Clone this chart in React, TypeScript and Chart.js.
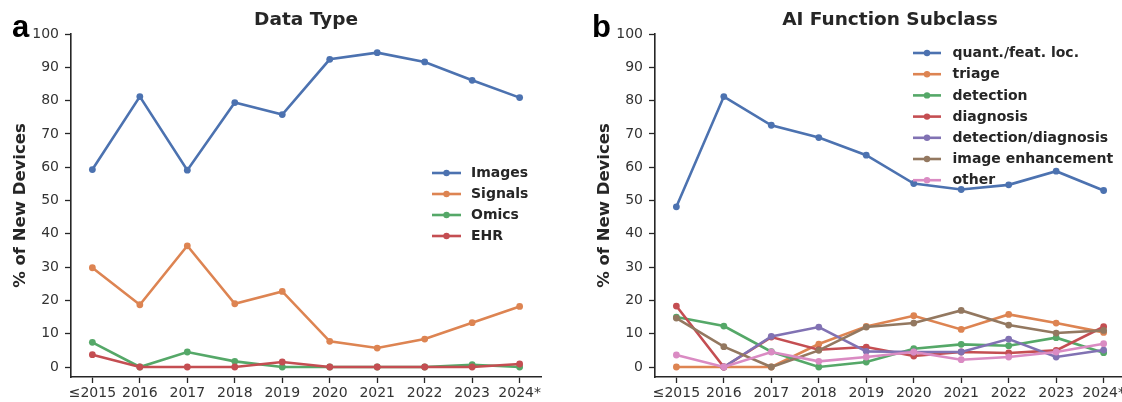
import React, { useEffect, useRef } from 'react';
import { Chart, registerables } from 'chart.js';

Chart.register(...registerables);

// ---------- data ----------
const years = ['≤2015', '2016', '2017', '2018', '2019', '2020', '2021', '2022', '2023', '2024*'];
const yTicks = [0, 10, 20, 30, 40, 50, 60, 70, 80, 90, 100];

// Panel a: Data Type
const images = [59.3, 81.2, 59.1, 79.4, 75.8, 92.4, 94.4, 91.6, 86.1, 80.9];
const signals = [29.8, 18.7, 36.4, 19.0, 22.7, 7.7, 5.7, 8.4, 13.3, 18.2];
const omics = [7.4, 0, 4.5, 1.7, 0, 0, 0, 0, 0.7, 0];
const ehr = [3.7, 0, 0, 0, 1.5, 0, 0, 0, 0, 0.9];

// Panel b: AI Function Subclass
const quant = [48.1, 81.2, 72.6, 68.9, 63.6, 55.1, 53.3, 54.7, 58.8, 53.0];
const triage = [0, 0, 0, 6.9, 12.2, 15.4, 11.3, 15.8, 13.2, 10.4];
const detection = [15.0, 12.3, 4.6, 0, 1.5, 5.5, 6.8, 6.4, 8.8, 4.3];
const diagnosis = [18.3, 0, 9.0, 5.2, 6.0, 3.3, 4.5, 4.2, 5.0, 12.1];
const detDiag = [null, 0, 9.2, 12.0, 4.7, 4.5, 4.5, 8.4, 3.0, 5.1];
const enhancement = [14.7, 6.1, 0, 5.0, 12.0, 13.2, 17.0, 12.6, 10.2, 11.0];
const other = [3.6, 0, 4.5, 1.7, 3.0, 4.5, 2.2, 3.0, 4.5, 7.0];

const seriesA = [
  { label: 'Images', values: images, color: '#4C72B0' },
  { label: 'Signals', values: signals, color: '#DD8452' },
  { label: 'Omics', values: omics, color: '#55A868' },
  { label: 'EHR', values: ehr, color: '#C44E52' },
];

const seriesB = [
  { label: 'quant./feat. loc.', values: quant, color: '#4C72B0' },
  { label: 'triage', values: triage, color: '#DD8452' },
  { label: 'detection', values: detection, color: '#55A868' },
  { label: 'diagnosis', values: diagnosis, color: '#C44E52' },
  { label: 'detection/diagnosis', values: detDiag, color: '#8172B3' },
  { label: 'image enhancement', values: enhancement, color: '#937860' },
  { label: 'other', values: other, color: '#DA8BC3' },
];

const FONT = "'DejaVu Sans', sans-serif";
const INK = '#262626';
const CANVAS_W = 584;
const AXIS_W = 71;
const AREA_RIGHT = 541;

const customLegend = {
  id: 'customLegend',
  afterDraw(chart: any, _args: any, opts: any) {
    const ctx = chart.ctx;
    ctx.save();
    // panel letter
    ctx.font = "bold 31px 'Liberation Sans', Arial, sans-serif";
    ctx.fillStyle = '#000';
    ctx.textBaseline = 'alphabetic';
    ctx.textAlign = 'left';
    ctx.fillText(opts.letter, opts.letterX, 37);
    // legend
    chart.data.datasets.forEach((ds: any, i: number) => {
      const y = opts.y0 + i * opts.gap;
      ctx.strokeStyle = ds.borderColor;
      ctx.lineWidth = 2.6;
      ctx.beginPath();
      ctx.moveTo(opts.x0, y);
      ctx.lineTo(opts.x1, y);
      ctx.stroke();
      ctx.fillStyle = ds.borderColor;
      ctx.beginPath();
      ctx.arc((opts.x0 + opts.x1) / 2, y, 3.2, 0, Math.PI * 2);
      ctx.fill();
      ctx.fillStyle = INK;
      ctx.font = `bold 14px ${FONT}`;
      ctx.textBaseline = 'middle';
      ctx.fillText(ds.label, opts.tx, y + 0.5);
    });
    ctx.restore();
  },
};

function makeConfig(title: string, series: any[], legendOpts: any): any {
  const n = series.length;
  return {
    type: 'line',
    data: {
      datasets: series.map((s, i) => ({
        label: s.label,
        data: s.values.map((v: number | null, j: number) => ({ x: j, y: v })),
        borderColor: s.color,
        backgroundColor: s.color,
        pointBackgroundColor: s.color,
        pointBorderWidth: 0,
        pointRadius: 3.4,
        borderWidth: 2.6,
        tension: 0,
        spanGaps: false,
        order: n - i,
      })),
    },
    plugins: [customLegend],
    options: {
      responsive: false,
      animation: false,
      devicePixelRatio: 1,
      layout: { padding: { left: 0, right: CANVAS_W - AREA_RIGHT, top: 0, bottom: 0 } },
      plugins: {
        legend: { display: false },
        tooltip: { enabled: false },
        title: {
          display: true,
          text: title,
          fullSize: false,
          color: INK,
          font: { family: FONT, size: 18.5, weight: 'bold', lineHeight: 1.2 },
          padding: { top: 9, bottom: 2.8 },
        },
        customLegend: legendOpts,
      },
      scales: {
        x: {
          type: 'linear',
          min: -0.45,
          max: 9.45,
          afterBuildTicks: (s: any) => {
            s.ticks = years.map((_, i) => ({ value: i }));
          },
          afterFit: (s: any) => {
            s.height = 25;
          },
          ticks: {
            autoSkip: false,
            maxRotation: 0,
            padding: 2,
            color: '#333',
            font: { family: FONT, size: 14 },
            callback: (v: any) => years[Math.round(v)] ?? '',
          },
          grid: { display: true, drawOnChartArea: false, tickLength: 6, tickColor: INK, tickWidth: 1.3 },
          border: { display: true, color: INK, width: 1.6 },
        },
        y: {
          type: 'linear',
          min: -3,
          max: 100,
          afterBuildTicks: (s: any) => {
            s.ticks = yTicks.map((v) => ({ value: v }));
          },
          afterFit: (s: any) => {
            s.width = AXIS_W;
          },
          ticks: {
            padding: 6,
            color: '#333',
            font: { family: FONT, size: 14 },
          },
          grid: { display: true, drawOnChartArea: false, tickLength: 6, tickColor: INK, tickWidth: 1.3 },
          border: { display: true, color: INK, width: 1.6 },
          title: {
            display: true,
            text: '% of New Devices',
            color: INK,
            font: { family: FONT, size: 16.5, weight: 'bold', lineHeight: 1.2 },
            padding: { top: 10.4, bottom: 0 },
          },
        },
      },
    },
  };
}

function Panel({ left, config }: { left: number; config: () => any }) {
  const ref = useRef<HTMLCanvasElement | null>(null);
  useEffect(() => {
    if (!ref.current) return;
    const chart = new Chart(ref.current, config());
    return () => chart.destroy();
  }, []);
  return (
    <canvas
      ref={ref}
      width={CANVAS_W}
      height={402}
      style={{ position: 'absolute', left, top: 0, width: CANVAS_W, height: 402 }}
    />
  );
}

export default function App() {
  return (
    <div
      style={{
        position: 'fixed',
        left: 0,
        top: 0,
        width: 1122,
        height: 402,
        overflow: 'hidden',
        background: '#fff',
      }}
    >
      <Panel
        left={0}
        config={() =>
          makeConfig('Data Type', seriesA, { letter: 'a', letterX: 12, x0: 432, x1: 461, tx: 471, y0: 173, gap: 21 })
        }
      />
      <Panel
        left={584}
        config={() =>
          makeConfig('AI Function Subclass', seriesB, {
            letter: 'b',
            letterX: 8,
            x0: 329,
            x1: 357,
            tx: 368.5,
            y0: 53,
            gap: 21.2,
          })
        }
      />
    </div>
  );
}
